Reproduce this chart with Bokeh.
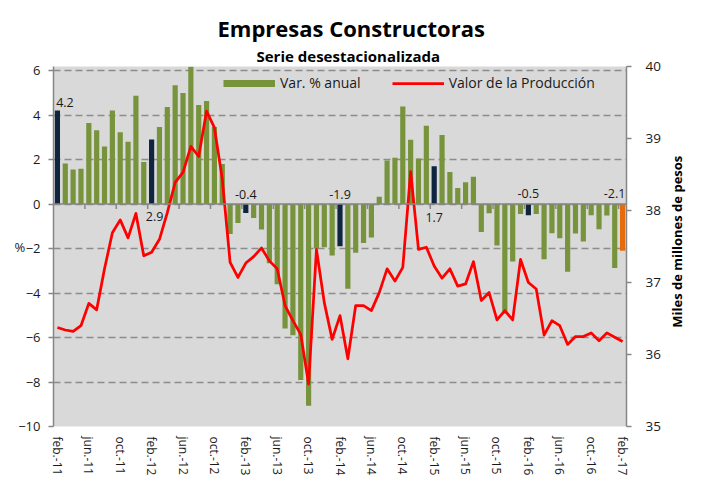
import math
from bokeh.plotting import figure
from bokeh.layouts import row
from bokeh.models import (Range1d, LinearAxis, FixedTicker, Span, Legend, LegendItem,
                          Title, ColumnDataSource)
from bokeh.core.properties import value
from bokeh.embed import file_html
from bokeh.resources import INLINE

# ---------------- data ----------------
mes_abbr = ["ene.", "feb.", "mar.", "abr.", "may.", "jun.", "jul.", "ago.", "sep.", "oct.", "nov.", "dic."]
months = []
for k in range(73):
    m = (1 + k) % 12
    yr = 11 + (1 + k) // 12
    months.append(f"{mes_abbr[m]}-{yr:02d}")

var_anual = [
    4.2, 1.82, 1.55, 1.59, 3.64, 3.32, 2.59, 4.2, 3.23, 2.80, 4.87, 1.89,
    2.9, 3.46, 4.36, 5.34, 4.99, 6.17, 4.45, 4.63, 3.46, 1.80, -1.35, -0.85,
    -0.4, -0.63, -1.15, -2.66, -3.61, -5.6, -5.9, -7.91, -9.07, -2.0, -1.94, -2.31,
    -1.9, -3.81, -2.19, -1.75, -1.51, 0.33, 1.95, 2.08, 4.38, 2.89, 2.05, 3.52,
    1.7, 3.10, 1.44, 0.72, 0.98, 1.22, -1.26, -0.42, -1.87, -4.93, -2.58, -0.45,
    -0.5, -0.45, -2.48, -1.31, -1.54, -3.04, -1.33, -1.69, -0.51, -1.13, -0.52, -2.88,
    -2.1,
]

valor_prod = [
    36.375, 36.34, 36.32, 36.40, 36.71, 36.62, 37.19, 37.69, 37.87, 37.62, 37.96, 37.37,
    37.42, 37.60, 37.97, 38.39, 38.53, 38.89, 38.75, 39.38, 39.15, 38.44, 37.28, 37.07,
    37.27, 37.36, 37.48, 37.30, 37.19, 36.68, 36.47, 36.28, 35.59, 37.46, 36.72, 36.21,
    36.54, 35.94, 36.68, 36.68, 36.61, 36.86, 37.19, 37.02, 37.21, 38.54, 37.46, 37.49,
    37.23, 37.06, 37.19, 36.95, 36.98, 37.29, 36.75, 36.86, 36.48, 36.61, 36.48, 37.32,
    37.00, 36.91, 36.27, 36.47, 36.40, 36.14, 36.25, 36.25, 36.30, 36.19, 36.30, 36.24,
    36.18,
]

left_ticks = [-10, -8, -6, -4, -2, 0, 2, 4, 6]
right_ticks = [35, 36, 37, 38, 39, 40]
right_title = "Miles de millones de pesos"

# ---------------- styles ----------------
GREEN = "#77933C"
NAVY = "#0F243E"
ORANGE = "#E46C0A"
RED = "#FF0000"
AXIS_GRAY = "#868686"
FONT = "Open Sans"
TXT = "#1a1a1a"
H = 486
W_MAIN = 666
W_SIDE = 34

idx = list(range(len(months)))
colors = [NAVY if mname.startswith("feb.") else GREEN for mname in months]
colors[-1] = ORANGE

p = figure(width=W_MAIN, height=H, output_backend="svg", toolbar_location=None,
           x_range=Range1d(-0.5, 72.5), y_range=Range1d(-10, 6.18),
           min_border_left=53, min_border_right=40, min_border_top=66, min_border_bottom=60,
           background_fill_color="#D9D9D9", border_fill_color="white",
           outline_line_color=None)
p.title.visible = False
p.extra_y_ranges = {"prod": Range1d(35, 40)}

# grid
p.xgrid.visible = False
p.ygrid.ticker = FixedTicker(ticks=left_ticks)
p.ygrid.grid_line_color = "#8C8C8C"
p.ygrid.grid_line_dash = "7 4"
p.ygrid.grid_line_width = 1.5

# bars
src = ColumnDataSource(dict(x=idx, top=var_anual, color=colors))
p.vbar(x="x", top="top", bottom=0, width=0.66, fill_color="color", line_color=None, source=src)

# zero axis line with ticks between categories
p.add_layout(Span(location=0, dimension="width", line_color=AXIS_GRAY, line_width=1.5))
tick_x = [k - 0.5 for k in idx[4::4]]
p.segment(x0=tick_x, y0=[0] * len(tick_x), x1=tick_x, y1=[-0.23] * len(tick_x),
          line_color=AXIS_GRAY, line_width=1.5)

# production line
line_r = p.line(x=idx, y=valor_prod, y_range_name="prod", line_color=RED,
                line_width=2.75, line_join="round")

# data labels on February bars
lab_i = [k for k, mname in enumerate(months) if mname.startswith("feb.")]
lab_text = [f"{var_anual[k]:.1f}" for k in lab_i]
lab_y = [var_anual[k] if n == 0 else 0 for n, k in enumerate(lab_i)]
lab_xoff = [7.5, 3, 0, 0, 0, 0, -8]
lab_yoff = [-8, 12, -10, -10, 13, -11, -11]
p.text(x=lab_i, y=lab_y, text=lab_text, x_offset=lab_xoff, y_offset=lab_yoff,
       text_align="center", text_baseline="middle", text_font=value(FONT),
       text_font_size="12.5px", text_color=TXT)

# left axis
ya = p.yaxis[0]
ya.ticker = FixedTicker(ticks=left_ticks)
ya.axis_line_color = AXIS_GRAY
ya.axis_line_width = 1.5
ya.major_tick_line_color = AXIS_GRAY
ya.major_tick_line_width = 1.5
ya.major_tick_out = 5
ya.major_tick_in = 0
ya.minor_tick_line_color = None
ya.major_label_standoff = 8
ya.major_label_text_font = FONT
ya.major_label_text_font_size = "13px"
ya.major_label_text_color = TXT
ya.axis_label = "%"
ya.axis_label_orientation = "horizontal"
ya.axis_label_standoff = -10
ya.axis_label_text_font = FONT
ya.axis_label_text_font_size = "13px"
ya.axis_label_text_font_style = "normal"
ya.axis_label_text_color = TXT

# bottom axis: labels only
xa = p.xaxis[0]
xa.ticker = FixedTicker(ticks=idx[::4])
xa.major_label_overrides = {k: months[k] for k in idx[::4]}
xa.major_label_orientation = "vertical"
xa.axis_line_color = None
xa.major_tick_line_color = None
xa.minor_tick_line_color = None
xa.major_tick_out = 0
xa.major_tick_in = 0
xa.major_label_standoff = 10
xa.major_label_text_font = FONT
xa.major_label_text_font_size = "12px"
xa.major_label_text_color = TXT

# right axis
ra = LinearAxis(y_range_name="prod", ticker=FixedTicker(ticks=right_ticks))
ra.axis_line_color = AXIS_GRAY
ra.axis_line_width = 1.5
ra.major_tick_line_color = AXIS_GRAY
ra.major_tick_line_width = 1.5
ra.major_tick_out = 5
ra.major_tick_in = 0
ra.minor_tick_line_color = None
ra.major_label_standoff = 14
ra.major_label_text_font = FONT
ra.major_label_text_font_size = "13.5px"
ra.major_label_text_color = TXT
p.add_layout(ra, "right")

# legend (proxy renderer for the bar swatch)
proxy = p.line(x=[0], y=[float("nan")], line_color=GREEN, line_width=7)
legend = Legend(items=[LegendItem(label="Var. % anual", renderers=[proxy]),
                       LegendItem(label="Valor de la Producción", renderers=[line_r])],
                orientation="horizontal", location=(170, 334),
                glyph_width=52, glyph_height=14, label_height=14, label_standoff=5,
                spacing=31, padding=0, margin=0, background_fill_alpha=0,
                border_line_color=None, label_text_font=FONT,
                label_text_font_size="14px", label_text_color=TXT)
p.add_layout(legend)

# titles
p.add_layout(Title(text="Serie desestacionalizada", align="left", offset=203,
                   text_font=FONT, text_font_size="15px", text_font_style="bold",
                   text_color="#000000", standoff=2), "above")
p.add_layout(Title(text="Empresas Constructoras", align="left", offset=164,
                   text_font=FONT, text_font_size="22px", text_font_style="bold",
                   text_color="#000000", standoff=0), "above")

# narrow side panel carrying the right-axis title (reads bottom-to-top)
q = figure(width=W_SIDE, height=H, output_backend="svg", toolbar_location=None,
           x_range=Range1d(0, W_SIDE), y_range=Range1d(0, H),
           min_border=0, border_fill_color="white", background_fill_color="white",
           outline_line_color=None)
q.axis.visible = False
q.grid.visible = False
q.title.visible = False
q.text(x=[10], y=[H - 236.5], text=[right_title], angle=math.pi / 2,
       text_align="center", text_baseline="middle", text_font=value(FONT),
       text_font_size="13px", text_font_style="bold", text_color="#000000")

layout = row(p, q, spacing=0)
open("out.html", "w").write(file_html(layout, INLINE))
